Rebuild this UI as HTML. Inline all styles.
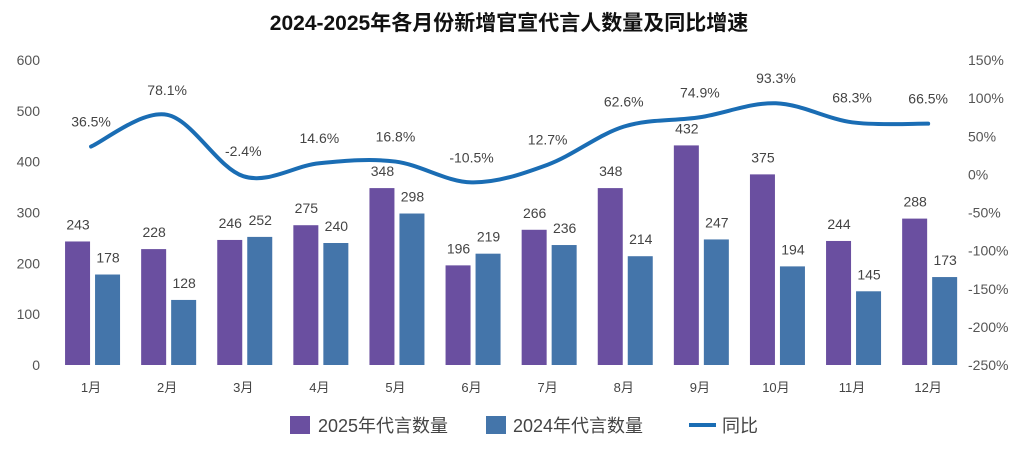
<!DOCTYPE html>
<html><head><meta charset="utf-8"><style>
body{margin:0;background:#fff;}
svg text{font-family:"Liberation Sans","Noto Sans CJK SC",sans-serif;}
</style></head><body>
<svg id="c" width="1019" height="453" xmlns="http://www.w3.org/2000/svg">
<text x="509" y="30" text-anchor="middle" font-size="21" font-weight="bold" fill="#111">2024-2025年各月份新增官宣代言人数量及同比增速</text>
<g id="axes"></g><g id="bars"></g><g id="line"></g><g id="labels"></g>
<g>
<rect x="290" y="416" width="20" height="18" fill="#6a4fa0"/>
<text x="318" y="432" font-size="18" fill="#444">2025年代言数量</text>
<rect x="486" y="416" width="20" height="18" fill="#4475aa"/>
<text x="513" y="432" font-size="18" fill="#444">2024年代言数量</text>
<line x1="689" y1="425" x2="716" y2="425" stroke="#1a6db4" stroke-width="4"/>
<text x="722" y="432" font-size="18" fill="#444">同比</text>
</g>
</svg>
<script>
const categories=["1月","2月","3月","4月","5月","6月","7月","8月","9月","10月","11月","12月"];
const values2025=[243,228,246,275,348,196,266,348,432,375,244,288];
const values2024=[178,128,252,240,298,219,236,214,247,194,145,173];
const yoy=[36.5,78.1,-2.4,14.6,16.8,-10.5,12.7,62.6,74.9,93.3,68.3,66.5];
const leftTicks=[0,100,200,300,400,500,600];
const rightTicks=[-250,-200,-150,-100,-50,0,50,100,150];
const NS="http://www.w3.org/2000/svg";
const x0=53,step=76.1,yBase=365,yTop=60;
const xc=i=>x0+step*(i+0.5);
const yL=v=>yBase-(v/600)*(yBase-yTop);
const yR=v=>yBase-((v+250)/400)*(yBase-yTop);
function mk(tag,attrs,parent,txt){const e=document.createElementNS(NS,tag);for(const k in attrs)e.setAttribute(k,attrs[k]);if(txt!==undefined)e.textContent=txt;document.getElementById(parent).appendChild(e);return e;}
leftTicks.forEach(t=>{const e=mk("text",{x:40,y:yL(t)+5,"text-anchor":"end","font-size":14,fill:"#555"},"axes",t);

});
rightTicks.forEach(t=>{const e=mk("text",{x:968,y:yR(t)+5,"font-size":14,fill:"#555"},"axes",t+"%");

});
categories.forEach((c,i)=>{const e=mk("text",{x:xc(i),y:392,"text-anchor":"middle","font-size":13,fill:"#444"},"axes",c);

});
categories.forEach((c,i)=>{
 const a=mk("rect",{x:xc(i)-26,y:yL(values2025[i]),width:25,height:yBase-yL(values2025[i]),fill:"#6a4fa0"},"bars");
 
 
 const b=mk("rect",{x:xc(i)+4,y:yL(values2024[i]),width:25,height:yBase-yL(values2024[i]),fill:"#4475aa"},"bars");
 
 
 const t1=mk("text",{x:xc(i)-13,y:yL(values2025[i])-12,"text-anchor":"middle","font-size":14,fill:"#444"},"labels",values2025[i]);
 
 
 const t2=mk("text",{x:xc(i)+17,y:yL(values2024[i])-12,"text-anchor":"middle","font-size":14,fill:"#444"},"labels",values2024[i]);
 
 
 const t3=mk("text",{x:xc(i),y:yR(yoy[i])-20,"text-anchor":"middle","font-size":14,fill:"#444"},"labels",yoy[i].toFixed(1)+"%");
 
 
});
const pts=yoy.map((v,i)=>[xc(i),yR(v)]);
let d="M"+pts[0][0]+","+pts[0][1];
for(let i=0;i<pts.length-1;i++){const p0=pts[Math.max(0,i-1)],p1=pts[i],p2=pts[i+1],p3=pts[Math.min(pts.length-1,i+2)];const k=1/6;
d+=` C${p1[0]+(p2[0]-p0[0])*k},${p1[1]+(p2[1]-p0[1])*k} ${p2[0]-(p3[0]-p1[0])*k},${p2[1]-(p3[1]-p1[1])*k} ${p2[0]},${p2[1]}`;}
const ln=mk("path",{d:d,fill:"none",stroke:"#1a6db4","stroke-width":4,"stroke-linecap":"round"},"line");


</script>
</body></html>
